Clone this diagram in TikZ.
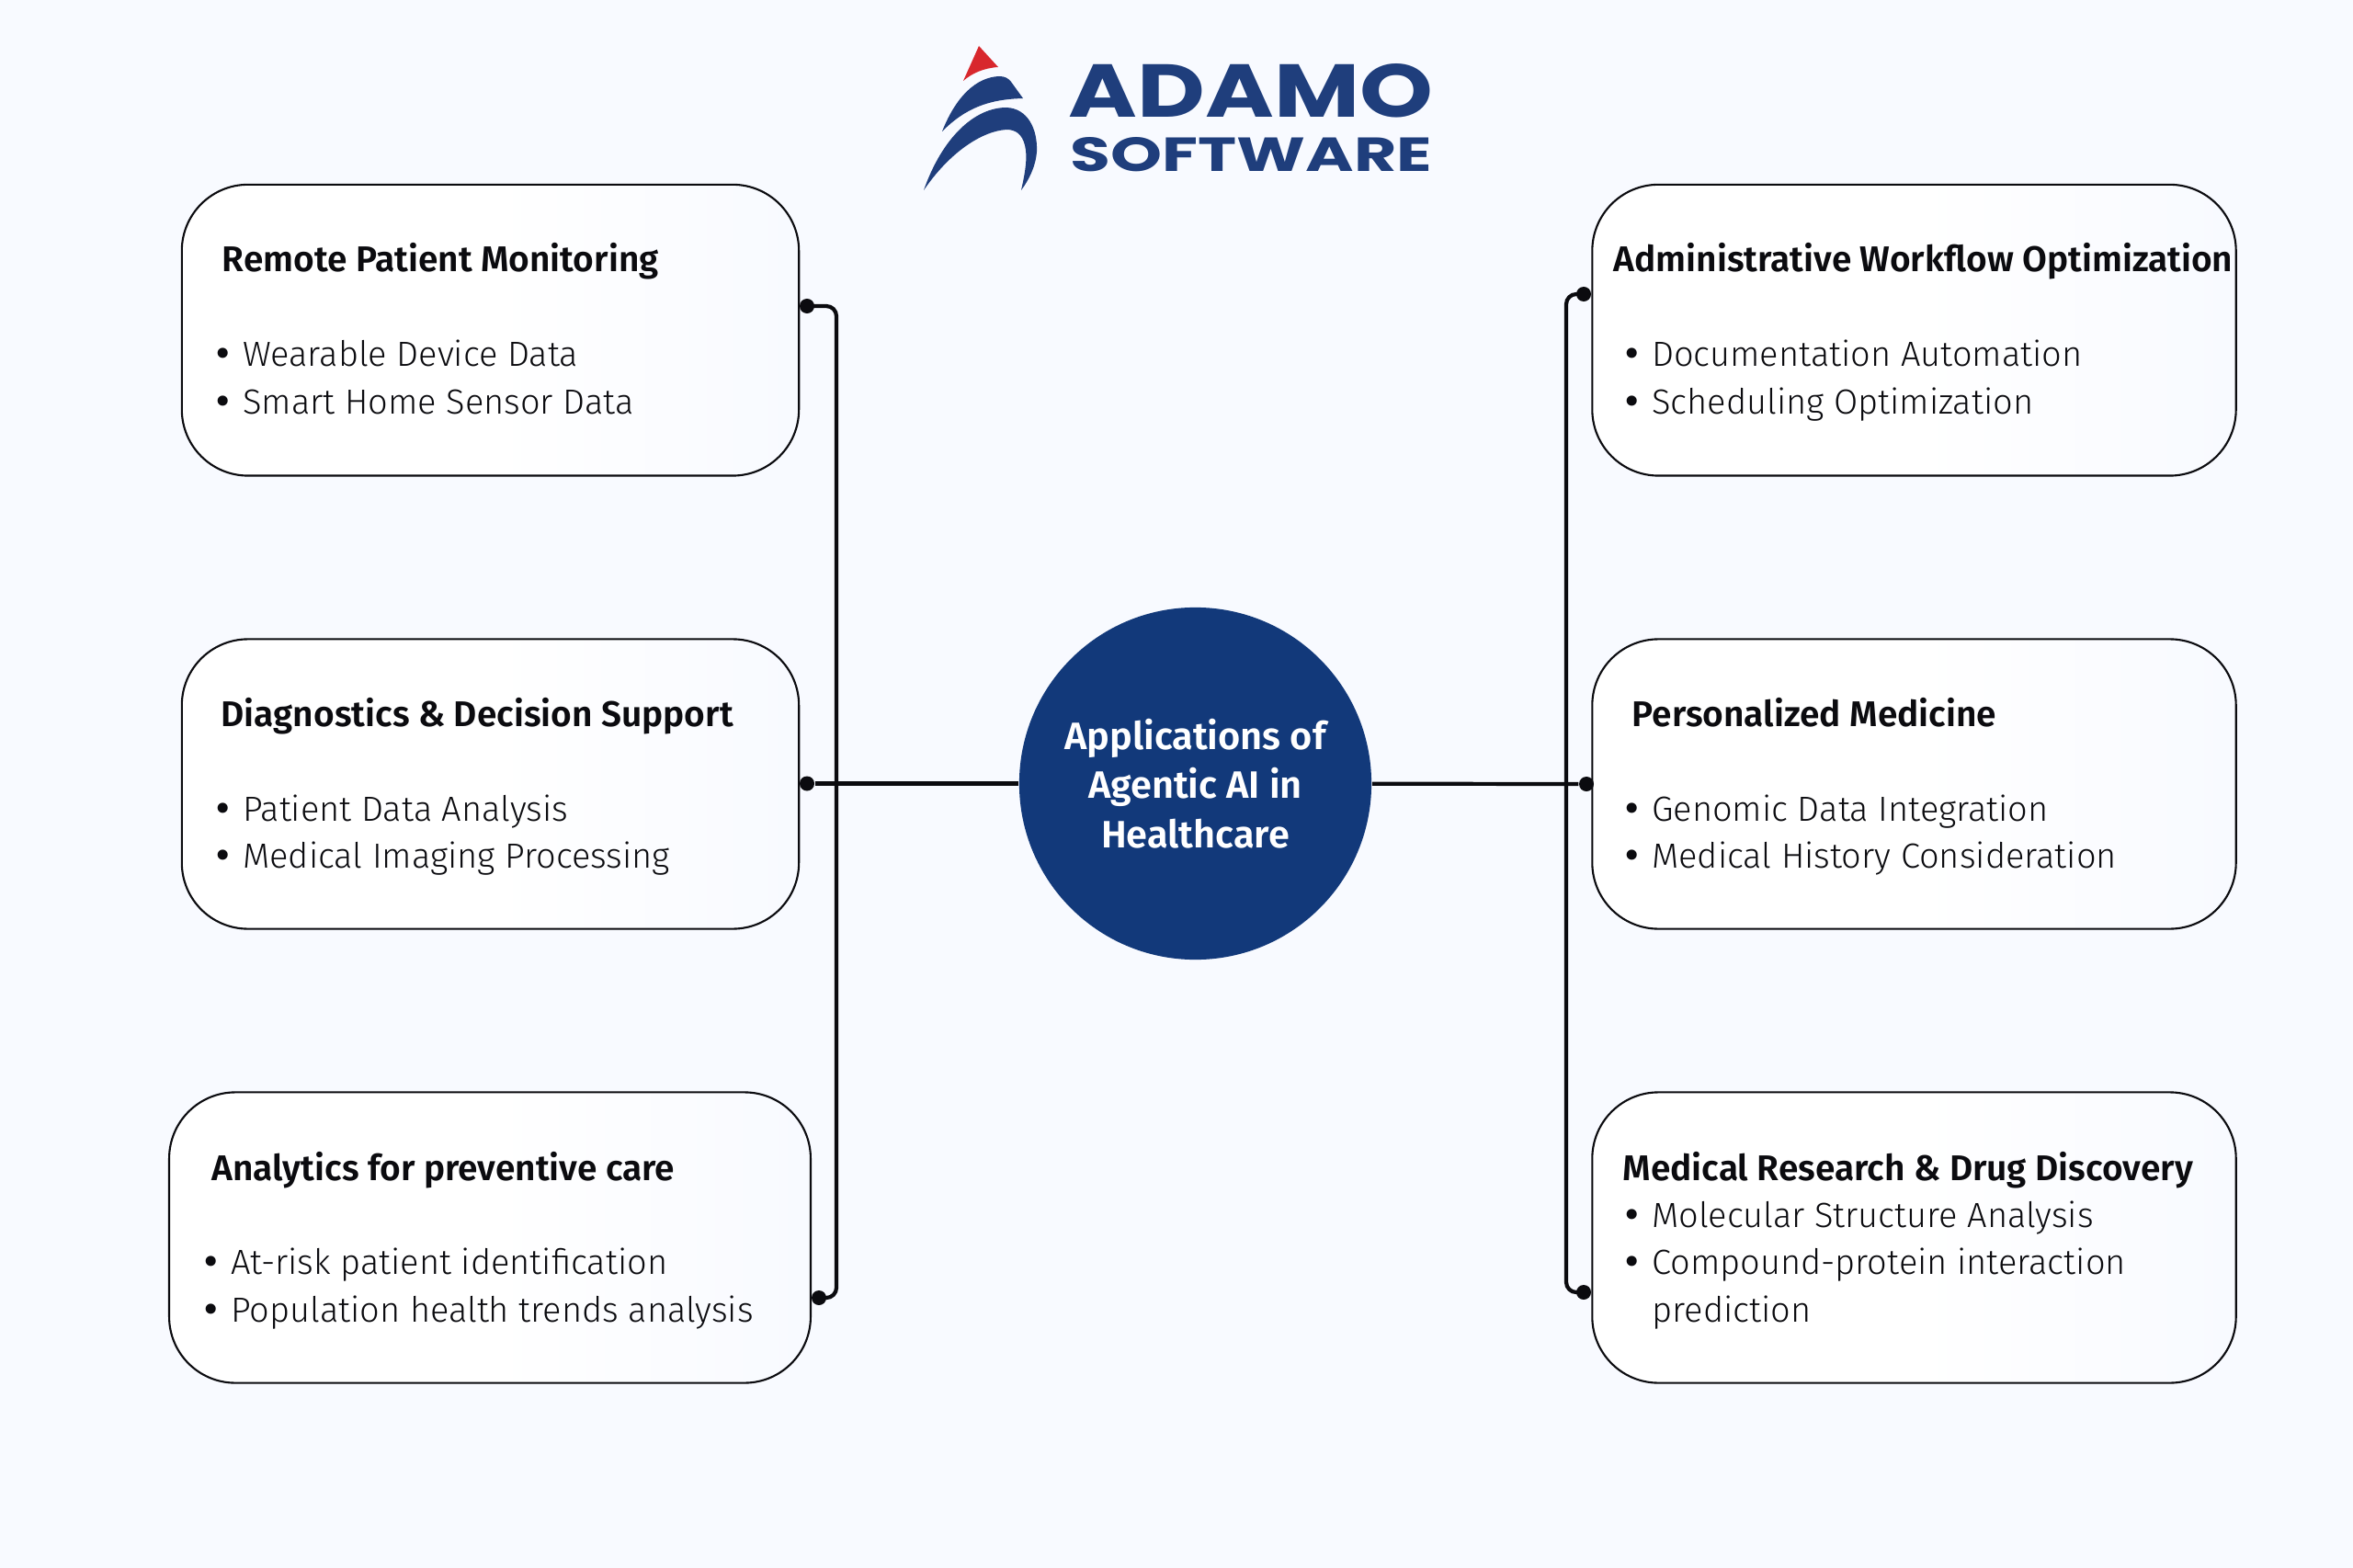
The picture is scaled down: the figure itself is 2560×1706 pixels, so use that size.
\documentclass[tikz,border=0pt]{standalone}
\usepackage{fontspec}
\usepackage{graphicx}
\setmainfont{Fira Sans Light}[BoldFont=Fira Sans SemiBold]
\newfontfamily\logofont{Poppins}[BoldFont=Poppins Bold]
\newfontfamily\bulletfont{DejaVu Sans}
\definecolor{pagebg}{HTML}{F8FAFF}
\definecolor{hubblue}{HTML}{12397A}
\definecolor{logoblue}{HTML}{1F3E7C}
\definecolor{logored}{HTML}{D8272D}
\definecolor{inkblack}{HTML}{0B0B0F}
\newcommand{\itm}{\makebox[8.4pt][l]{\hspace{-0.9pt}\bulletfont•}}
\tikzset{
 infobox/.style={draw=inkblack, line width=0.6pt, rounded corners=0.72cm, left color=white, right color=pagebg, middle color=white, inner sep=0pt},
 headtxt/.style={anchor=base west, inner sep=0pt, text=inkblack, font=\fontsize{11.05}{14}\selectfont\bfseries},
 itemtxt/.style={anchor=base west, inner sep=0pt, text=inkblack, font=\fontsize{10.8}{14}\selectfont},
 dotmark/.style={circle, fill=inkblack, minimum size=0.16cm, inner sep=0pt},
 wire/.style={draw=inkblack, line width=1.2pt, rounded corners=0.11cm},
 logopart/.style={fill=logoblue, draw=none}
}
\begin{document}
\begin{tikzpicture}[x=0.01cm,y=-0.01cm]
\useasboundingbox (0,0) rectangle (2560,1706);
\fill[pagebg] (0,0) rectangle (2560,1706);
% logo
\fill[logored] (1065,50) -- (1086,73) .. controls (1070,74) and (1057,80) .. (1048,88) -- cycle;
\fill[logopart] (1025,143) .. controls (1040,105) and (1062,84) .. (1087,83) .. controls (1093,83) and (1097,85) .. (1100,89) -- (1113,107) .. controls (1075,108) and (1050,118) .. (1025,143) -- cycle;
\fill[logopart] (1005,207) .. controls (1025,150) and (1060,117) .. (1095,117) .. controls (1118,118) and (1129,140) .. (1128,165) .. controls (1127,180) and (1120,195) .. (1111,207) .. controls (1116,185) and (1118,170) .. (1115,158) .. controls (1112,146) and (1105,141) .. (1095,141) .. controls (1065,143) and (1030,170) .. (1005,207) -- cycle;
\node[inner sep=0pt, text=logoblue] (logotop) at (1361,99) {\resizebox{3.96cm}{0.58cm}{\logofont\bfseries ADAMO}};
\node[inner sep=0pt, text=logoblue] (logobottom) at (1361.5,168.5) {\resizebox{3.93cm}{0.37cm}{\logofont\bfseries SOFTWARE}};
% boxes
\node[infobox, minimum width=6.71cm, minimum height=3.165cm] (lbox1) at (533.5,359.2) {};
\node[infobox, minimum width=6.71cm, minimum height=3.15cm] (lbox2) at (533.5,853) {};
\node[infobox, minimum width=6.975cm, minimum height=3.16cm] (lbox3) at (533,1346.5) {};
\node[infobox, minimum width=7cm, minimum height=3.165cm] (rbox1) at (2082.5,359.2) {};
\node[infobox, minimum width=7cm, minimum height=3.15cm] (rbox2) at (2082.5,853) {};
\node[infobox, minimum width=7cm, minimum height=3.16cm] (rbox3) at (2082.5,1346.5) {};
% left texts
\node[headtxt] (lhead1) at (241,296) {Remote Patient Monitoring};
\node[itemtxt] (litem1a) at (234,398.5) {\itm Wearable Device Data};
\node[itemtxt] (litem1b) at (234,450) {\itm Smart Home Sensor Data};
\node[headtxt] (lhead2) at (240,790) {Diagnostics \& Decision Support};
\node[itemtxt] (litem2a) at (234,893) {\itm Patient Data Analysis};
\node[itemtxt] (litem2b) at (234,944) {\itm Medical Imaging Processing};
\node[headtxt] (lhead3) at (230,1284) {Analytics for preventive care};
\node[itemtxt] (litem3a) at (221,1386) {\itm At-risk patient identification};
\node[itemtxt] (litem3b) at (221,1438) {\itm Population health trends analysis};
% right texts
\node[headtxt] (rhead1) at (1755,296) {Administrative Workflow Optimization};
\node[itemtxt] (ritem1a) at (1767,398.5) {\itm Documentation Automation};
\node[itemtxt] (ritem1b) at (1767,450) {\itm Scheduling Optimization};
\node[headtxt] (rhead2) at (1775,790) {Personalized Medicine};
\node[itemtxt] (ritem2a) at (1767,893) {\itm Genomic Data Integration};
\node[itemtxt] (ritem2b) at (1767,944) {\itm Medical History Consideration};
\node[headtxt] (rhead3) at (1765,1284) {Medical Research \& Drug Discovery};
\node[itemtxt] (ritem3a) at (1767,1335) {\itm Molecular Structure Analysis};
\node[itemtxt] (ritem3b) at (1767,1386) {\itm Compound-protein interaction};
\node[itemtxt] (ritem3c) at (1797,1438) {prediction};
% hub
\node[circle, fill=hubblue, minimum size=3.83cm, inner sep=0pt, text=white, align=center, font=\fontsize{11.8}{15.3}\selectfont\bfseries] (hub) at (1300.5,852.5) {Applications of\\Agentic AI in\\Healthcare};
% dots and wires
\node[dotmark] (ld1) at (878,333) {};
\node[dotmark] (ld2) at (878,852.5) {};
\node[dotmark] (ld3) at (891,1412) {};
\node[dotmark] (rd1) at (1723,320) {};
\node[dotmark] (rd2) at (1726,853) {};
\node[dotmark] (rd3) at (1723,1406) {};
\coordinate (lbus) at (910,852);
\coordinate (rbus) at (1704,853);
\draw[wire] (ld1.center) -| (lbus) |- (ld3.center);
\draw[wire] (rd1.center) -| (rbus) |- (rd3.center);
\draw[wire] (ld2) -- (hub);
\draw[wire] (hub) -- (rd2);
\end{tikzpicture}
\end{document}
